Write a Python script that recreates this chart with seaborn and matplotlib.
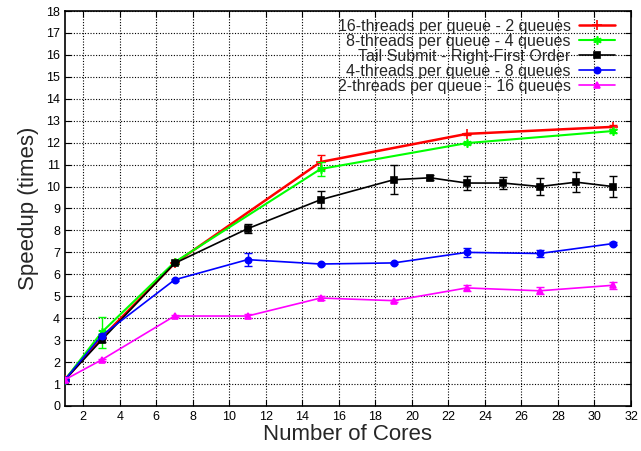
import matplotlib
matplotlib.use("Agg")
import matplotlib.pyplot as plt
import seaborn as sns
import numpy as np

# data
labels = ['16-threads per queue - 2 queues',
          '8-threads per queue - 4 queues',
          'Tail Submit - Right-First Order',
          '4-threads per queue - 8 queues',
          '2-threads per queue - 16 queues']

x_16 = [1, 3, 7, 15, 23, 31]
y_16 = [1.2, 3.1, 6.5, 11.12, 12.4, 12.72]
e_16 = [0.05, 0.05, 0.05, 0.3, 0.05, 0.1]

x_8 = [1, 3, 7, 15, 23, 31]
y_8 = [1.2, 3.35, 6.55, 10.8, 11.98, 12.53]
e_8 = [0.05, 0.7, 0.1, 0.3, 0.05, 0.1]

x_tail = [1, 3, 7, 11, 15, 19, 21, 23, 25, 27, 29, 31]
y_tail = [1.2, 3.0, 6.5, 8.08, 9.4, 10.31, 10.4, 10.16, 10.16, 10.0, 10.2, 10.0]
e_tail = [0.05, 0.1, 0.05, 0.2, 0.4, 0.65, 0.12, 0.33, 0.27, 0.37, 0.46, 0.49]

x_4 = [1, 3, 7, 11, 15, 19, 23, 27, 31]
y_4 = [1.2, 3.2, 5.75, 6.67, 6.47, 6.52, 7.0, 6.95, 7.4]
e_4 = [0.05, 0.1, 0.05, 0.3, 0.05, 0.05, 0.2, 0.15, 0.08]

x_2 = [1, 3, 7, 11, 15, 19, 23, 27, 31]
y_2 = [1.2, 2.1, 4.1, 4.1, 4.92, 4.8, 5.38, 5.25, 5.5]
e_2 = [0.1, 0.05, 0.05, 0.1, 0.1, 0.05, 0.15, 0.15, 0.15]

series = [(x_16, y_16, e_16), (x_8, y_8, e_8), (x_tail, y_tail, e_tail),
          (x_4, y_4, e_4), (x_2, y_2, e_2)]
colors = ['#ff0000', '#00ff00', '#000000', '#0000ff', '#ff00ff']
markers = ['+', (6, 2, 0), 's', 'o', '^']
msizes = [7, 6, 5, 4.5, 4]
lwidths = [1.8, 1.5, 1.2, 1.2, 1.2]

sns.set_style("ticks")
plt.rcParams['font.family'] = ['Liberation Sans', 'DejaVu Sans']

fig = plt.figure(figsize=(6.41, 4.51), dpi=100)
ax = fig.add_axes([0.1014, 0.0998, 0.8830, 0.8758])

for i, (xs, ys, es) in enumerate(series):
    sns.lineplot(x=xs, y=ys, ax=ax, color=colors[i], marker=markers[i],
                 markersize=msizes[i], markeredgewidth=1.2, markeredgecolor=colors[i],
                 linewidth=lwidths[i], label=labels[i], zorder=3 + i)
    ax.errorbar(xs, ys, yerr=es, fmt='none', ecolor=colors[i], elinewidth=1.0,
                capsize=3, capthick=1.0, zorder=3 + i)

ax.set_xlim(1, 32)
ax.set_ylim(0, 18)
ax.set_xticks(np.arange(2, 33, 2))
ax.set_yticks(np.arange(0, 19, 1))
ax.grid(True, color='black', linestyle=(0, (1, 1.5)), linewidth=0.8)
ax.tick_params(direction='in', top=True, right=True, labelsize=9, length=4,
               colors='black')
for sp in ax.spines.values():
    sp.set_linewidth(1.2)
    sp.set_color('black')

ax.set_xlabel('Number of Cores', fontsize=16, labelpad=1)
ax.set_ylabel('Speedup (times)', fontsize=16, labelpad=5)

# markerfirst=False puts the sample on the right and right-aligns the text
ax.legend(loc='upper right', frameon=False, markerfirst=False, fontsize=11.5,
          handlelength=2.2, labelspacing=0.0, borderaxespad=0.1,
          handletextpad=0.55, bbox_to_anchor=(0.985, 1.0))

fig.savefig('out.png', dpi=100)
